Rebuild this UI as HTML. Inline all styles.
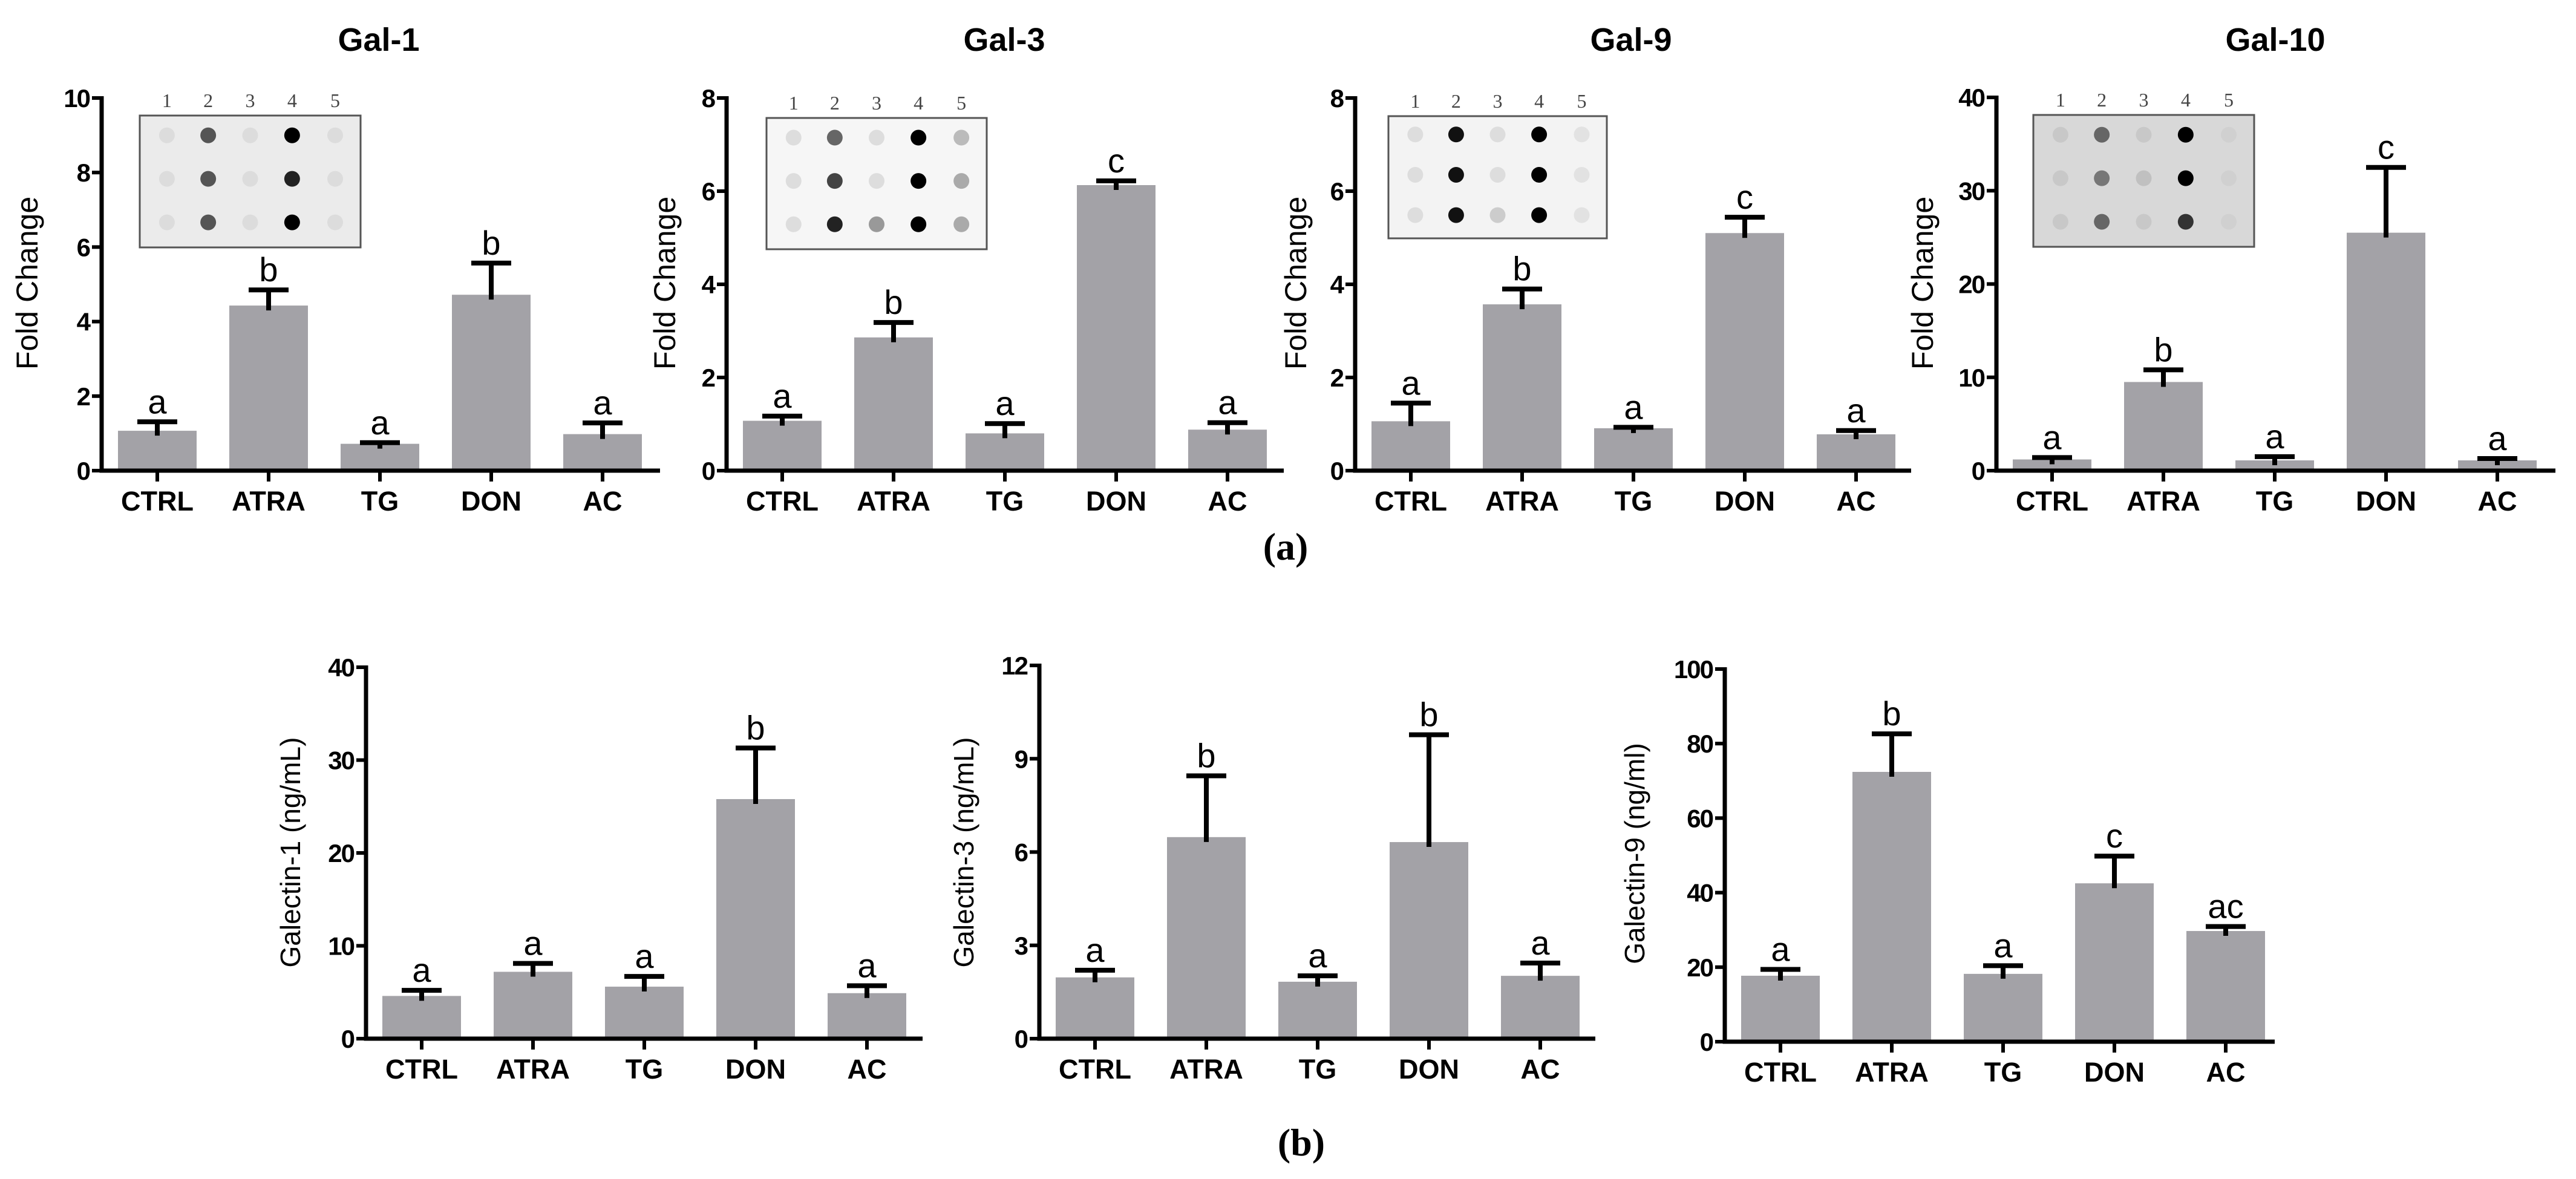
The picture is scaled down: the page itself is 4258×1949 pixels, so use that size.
<!DOCTYPE html>
<html><head><meta charset="utf-8"><style>
html,body{margin:0;padding:0;background:#fff;}
svg{display:block;}
text{font-family:"Liberation Sans",Arial,sans-serif;}
</style></head><body>
<svg id="fig" width="4258" height="1949" viewBox="0 0 4258 1949" xmlns="http://www.w3.org/2000/svg">
<rect width="4258" height="1949" fill="#fff"/>
<text x="2125" y="925" style="font-family:'Liberation Serif',serif" font-weight="bold" font-size="64" text-anchor="middle">(a)</text>
<text x="2151" y="1910" style="font-family:'Liberation Serif',serif" font-weight="bold" font-size="64" text-anchor="middle">(b)</text>
</svg>
<script>
const categories = ["CTRL","ATRA","TG","DON","AC"];

const gal1Values = [1.07, 4.43, 0.72, 4.72, 0.98];
const gal1Errors = [1.31, 4.85, 0.75, 5.57, 1.28];
const gal1Letters = ["a","b","a","b","a"];
const gal1Ticks = [0,2,4,6,8,10];

const gal3Values = [1.07, 2.86, 0.80, 6.13, 0.88];
const gal3Errors = [1.17, 3.18, 1.01, 6.22, 1.03];
const gal3Letters = ["a","b","a","c","a"];
const gal3Ticks = [0,2,4,6,8];

const gal9Values = [1.06, 3.57, 0.91, 5.10, 0.78];
const gal9Errors = [1.45, 3.90, 0.93, 5.44, 0.86];
const gal9Letters = ["a","b","a","c","a"];
const gal9Ticks = [0,2,4,6,8];

const gal10Values = [1.2, 9.5, 1.1, 25.5, 1.1];
const gal10Errors = [1.4, 10.8, 1.5, 32.5, 1.3];
const gal10Letters = ["a","b","a","c","a"];
const gal10Ticks = [0,10,20,30,40];

const galectin1Values = [4.6, 7.2, 5.6, 25.8, 4.9];
const galectin1Errors = [5.2, 8.1, 6.7, 31.3, 5.7];
const galectin1Letters = ["a","a","a","b","a"];
const galectin1Ticks = [0,10,20,30,40];

const galectin3Values = [1.97, 6.48, 1.83, 6.32, 2.02];
const galectin3Errors = [2.20, 8.45, 2.02, 9.77, 2.43];
const galectin3Letters = ["a","b","a","b","a"];
const galectin3Ticks = [0,3,6,9,12];

const galectin9Values = [17.7, 72.4, 18.2, 42.5, 29.7];
const galectin9Errors = [19.4, 82.6, 20.4, 49.8, 30.9];
const galectin9Letters = ["a","b","a","c","ac"];
const galectin9Ticks = [0,20,40,60,80,100];

const NS = "http://www.w3.org/2000/svg";
const svg = document.getElementById("fig");
function mk(tag, attrs, parent){
  const e = document.createElementNS(NS, tag);
  for (const k in attrs) e.setAttribute(k, attrs[k]);
  (parent||svg).appendChild(e);
  return e;
}

function drawPanel(p, values, errors, letters, ticks){
  const g = mk("g", {});
  
  
  const yMax = ticks[ticks.length-1];
  const y = v => p.zeroY - (v / yMax) * (p.zeroY - p.topY);
  const x = i => p.axisX + 92 + i * 184;
  values.forEach((v, i) => {
    const r = mk("rect", {x: x(i)-65, y: y(v), width: 130, height: p.zeroY - y(v), fill: "#a3a2a7"}, g);
    
    
    const e = mk("path", {d: `M${x(i)} ${y(v)+8} V${y(errors[i])} M${x(i)-33} ${y(errors[i])} H${x(i)+33}`, stroke: "#000", "stroke-width": 8, fill: "none"}, g);
    
    
    const t = mk("text", {x: x(i), y: y(errors[i]) - 14, "font-size": 56, "text-anchor": "middle"}, g);
    t.textContent = letters[i];
    
    
    const xl = mk("text", {x: x(i), y: p.zeroY + 66, "font-size": 45, "font-weight": "bold", "text-anchor": "middle"}, g);
    xl.textContent = categories[i];
    
    
    mk("line", {x1: x(i), x2: x(i), y1: p.zeroY, y2: p.zeroY + 18, stroke: "#000", "stroke-width": 6}, g);
  });
  const ax = mk("path", {d: `M${p.axisX} ${p.topY-3} V${p.zeroY} H${p.endX}`, stroke: "#000", "stroke-width": 7, fill: "none"}, g);
  
  
  ticks.forEach(tv => {
    mk("line", {x1: p.axisX - 16, x2: p.axisX, y1: y(tv), y2: y(tv), stroke: "#000", "stroke-width": 6}, g);
    const tl = mk("text", {x: p.axisX - 20, y: y(tv) + 15, "font-size": 42, "font-weight": "bold", "text-anchor": "end", "letter-spacing": "-2"}, g);
    tl.textContent = tv;
    
    
  });
  const yl = mk("text", {x: p.labelX, y: p.labelY, "font-size": p.labelSize, "text-anchor": "middle", transform: `rotate(-90 ${p.labelX} ${p.labelY})`, "dominant-baseline": "middle"}, g);
  yl.textContent = p.yLabel;
  
  
  if (p.title){
    const tt = mk("text", {x: p.titleX, y: 84, "font-size": 54, "font-weight": "bold", "text-anchor": "middle"}, g);
    tt.textContent = p.title;
    
    
  }
  if (p.inset){
    const b = p.inset;
    const ig = mk("g", {}, g);
    
    
    mk("rect", {x: b.x, y: b.y, width: b.w, height: b.h, fill: b.bg, stroke: "#555", "stroke-width": 3}, ig);
    const fr = [0.123, 0.31, 0.5, 0.69, 0.885];
    const rows = [0.15, 0.48, 0.81];
    fr.forEach((f, li) => {
      const ln = mk("text", {x: b.x + f*b.w, y: b.y - 14, "font-size": 32, "text-anchor": "middle", fill: "#444", style: "font-family:'Liberation Serif',serif"}, ig);
      ln.textContent = li + 1;
      
      
      rows.forEach((rf, ri) => {
        mk("circle", {cx: b.x + f*b.w, cy: b.y + rf*b.h, r: 13, fill: b.dots[li][ri]}, ig);
      });
    });
  }
}

const faint = "#dcdcdc";
drawPanel({id:"gal-1", axisX:168, topY:162, zeroY:778, endX:1091, yLabel:"Fold Change", labelX:49, labelY:468, labelSize:50, title:"Gal-1", titleX:626,
  inset:{x:231,y:191,w:365,h:218,bg:"#ebebeb",dots:[[faint,faint,faint],["#555","#555","#555"],[faint,faint,faint],["#000","#222","#000"],[faint,faint,faint]]}},
  gal1Values, gal1Errors, gal1Letters, gal1Ticks);
drawPanel({id:"gal-3", axisX:1201, topY:162, zeroY:778, endX:2122, yLabel:"Fold Change", labelX:1103, labelY:468, labelSize:50, title:"Gal-3", titleX:1660,
  inset:{x:1267,y:195,w:364,h:217,bg:"#f6f6f6",dots:[["#ddd","#ddd","#ddd"],["#666","#444","#222"],["#ddd","#ddd","#999"],["#000","#000","#000"],["#bbb","#aaa","#aaa"]]}},
  gal3Values, gal3Errors, gal3Letters, gal3Ticks);
drawPanel({id:"gal-9", axisX:2240, topY:162, zeroY:778, endX:3159, yLabel:"Fold Change", labelX:2146, labelY:468, labelSize:50, title:"Gal-9", titleX:2696,
  inset:{x:2295,y:192,w:361,h:202,bg:"#f3f3f3",dots:[["#ddd","#ddd","#ddd"],["#111","#111","#111"],["#ddd","#ddd","#ccc"],["#000","#000","#000"],["#e2e2e2","#e2e2e2","#e2e2e2"]]}},
  gal9Values, gal9Errors, gal9Letters, gal9Ticks);
drawPanel({id:"gal-10", axisX:3300, topY:161, zeroY:778, endX:4224, yLabel:"Fold Change", labelX:3182, labelY:468, labelSize:50, title:"Gal-10", titleX:3761,
  inset:{x:3361,y:190,w:365,h:218,bg:"#d8d8d8",dots:[["#c8c8c8","#c8c8c8","#c8c8c8"],["#666","#777","#666"],["#c8c8c8","#c0c0c0","#c8c8c8"],["#000","#000","#333"],["#d0d0d0","#d0d0d0","#d0d0d0"]]}},
  gal10Values, gal10Errors, gal10Letters, gal10Ticks);

drawPanel({id:"galectin-1", axisX:605, topY:1103, zeroY:1717, endX:1525, yLabel:"Galectin-1 (ng/mL)", labelX:484, labelY:1409, labelSize:46},
  galectin1Values, galectin1Errors, galectin1Letters, galectin1Ticks);
drawPanel({id:"galectin-3", axisX:1718, topY:1100, zeroY:1717, endX:2637, yLabel:"Galectin-3 (ng/mL)", labelX:1597, labelY:1409, labelSize:46},
  galectin3Values, galectin3Errors, galectin3Letters, galectin3Ticks);
drawPanel({id:"galectin-9", axisX:2851, topY:1106, zeroY:1722, endX:3760, yLabel:"Galectin-9 (ng/ml)", labelX:2706, labelY:1411, labelSize:46},
  galectin9Values, galectin9Errors, galectin9Letters, galectin9Ticks);
</script>
</body></html>
